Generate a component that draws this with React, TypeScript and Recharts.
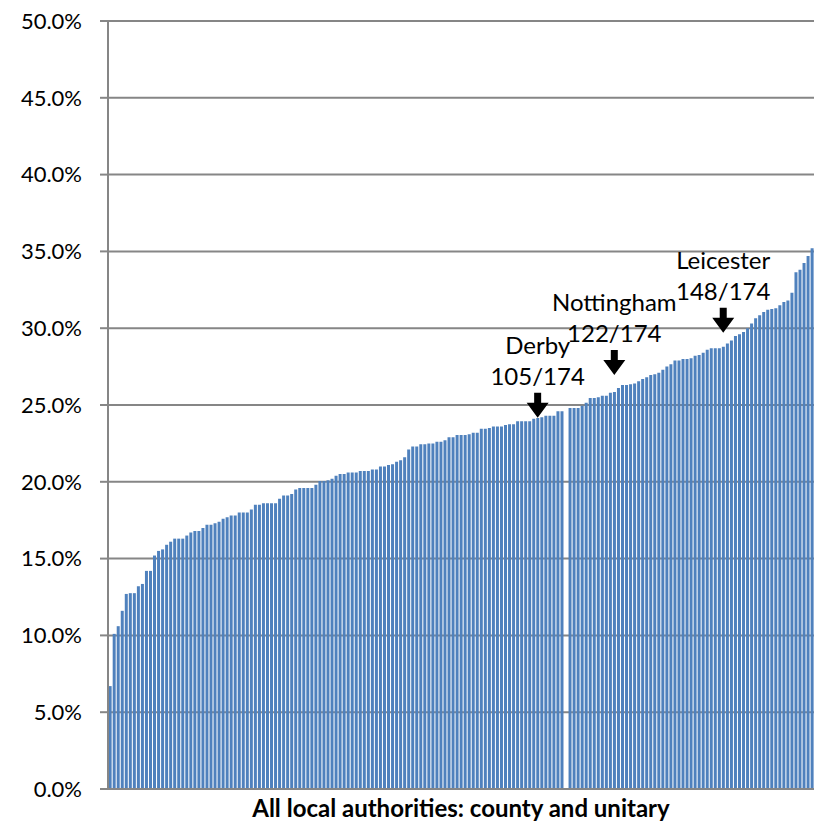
import React from 'react';
import { BarChart, Bar, XAxis, YAxis, CartesianGrid, ReferenceDot, Label } from 'recharts';

// Share (%) for each local authority, sorted ascending; one slot has no value
const shares: (number | null)[] = [
  6.7, 10.1, 10.6, 11.6, 12.7, 12.75, 12.75, 13.2, 13.35,
  14.2, 14.2, 15.2, 15.5, 15.6, 15.9, 16.1, 16.3, 16.3, 16.3, 16.5, 16.7, 16.8, 16.8, 17.0, 17.2, 17.2, 17.3, 17.4, 17.6,
  17.7, 17.8, 17.8, 18.0, 18.0, 18.0, 18.2, 18.5, 18.5, 18.6, 18.6, 18.6, 18.6, 18.9, 19.1, 19.1, 19.2, 19.5, 19.6, 19.6,
  19.6, 19.6, 19.8, 20.05, 20.05, 20.1, 20.2, 20.4, 20.5,
  20.5, 20.6, 20.6, 20.6, 20.7, 20.7, 20.7, 20.8, 20.8, 21.0, 21.0, 21.1, 21.15, 21.3, 21.4, 21.6, 22.1, 22.3, 22.3, 22.45,
  22.45, 22.5, 22.5, 22.6, 22.6, 22.7, 22.9, 22.9, 23.05, 23.05, 23.05, 23.1, 23.2, 23.2, 23.45, 23.45, 23.5, 23.6, 23.6,
  23.6, 23.7, 23.75, 23.75, 23.95, 23.95, 23.95, 23.95, 24.1, 24.15, 24.2, 24.3, 24.3, 24.3, 24.6, 24.6,
  null,
  24.8, 24.8, 24.8, 24.95, 25.15, 25.45, 25.45, 25.5, 25.6, 25.6, 25.8, 25.85, 26.1,
  26.3, 26.3, 26.35, 26.4, 26.55, 26.7, 26.8, 26.95, 27.0, 27.1, 27.3, 27.5, 27.65, 27.9, 27.9, 28.0, 28.0, 28.05, 28.2,
  28.25, 28.4, 28.6, 28.7, 28.7, 28.7, 28.8, 29.0, 29.2, 29.5, 29.6, 29.75, 30.0, 30.3, 30.65, 30.85, 31.05, 31.2, 31.25,
  31.3, 31.5, 31.7, 31.8, 32.3, 33.65, 33.8, 34.25, 34.7, 35.2,
];

const yTicks = [0, 5, 10, 15, 20, 25, 30, 35, 40, 45, 50];
const xTitle = 'All local authorities: county and unitary';

// Annotations
const annotationNames = ['Derby', 'Nottingham', 'Leicester'];
const annotationRanks = ['105/174', '122/174', '148/174'];
const annotationIndex = [106, 125, 152];
const annotationTip = [24.17, 26.95, 29.7];

const data = shares.map((v, i) => ({ i, v }));

const FONT = 'Lato, "Liberation Sans", sans-serif';
const GRID = '#868686';

const makeArrow = (name: string, rank: string) => (props: any) => {
  const { cx, cy } = props;
  if (cx == null || cy == null) return <g />;
  const pts = [
    [cx - 3.5, cy - 25],
    [cx + 3.5, cy - 25],
    [cx + 3.5, cy - 15],
    [cx + 11, cy - 15],
    [cx, cy],
    [cx - 11, cy - 15],
    [cx - 3.5, cy - 15],
  ]
    .map((p) => p.join(','))
    .join(' ');
  return (
    <g>
      <polygon points={pts} fill="#000" />
      <text x={cx} y={cy - 33} textAnchor="middle" fontSize={24} fontFamily={FONT} fill="#000">
        {rank}
      </text>
      <text x={cx} y={cy - 64} textAnchor="middle" fontSize={24} fontFamily={FONT} fill="#000">
        {name}
      </text>
    </g>
  );
};

export default function App() {
  return (
    <div style={{ position: 'absolute', left: 0, top: 0, width: 814, height: 824, background: '#fff' }}>
      <BarChart
        width={814}
        height={824}
        data={data}
        margin={{ top: 21, right: 0, bottom: 0, left: 0 }}
        barCategoryGap="16%"
      >
        <CartesianGrid vertical={false} stroke={GRID} strokeWidth={2} />
        <XAxis
          dataKey="i"
          type="category"
          tick={false}
          tickLine={false}
          height={35}
          axisLine={{ stroke: GRID, strokeWidth: 2 }}
          interval={0}
        >
          <Label
            value={xTitle}
            position="insideBottom"
            offset={7}
            style={{ fontFamily: FONT, fontSize: 24, fontWeight: 'bold', fill: '#000' }}
          />
        </XAxis>
        <YAxis
          domain={[0, 50]}
          ticks={yTicks}
          interval={0}
          width={108}
          tickSize={8}
          tickMargin={18}
          tickFormatter={(v: number) => `${v.toFixed(1)}%`}
          tick={{ fill: '#000', fontSize: 22, fontFamily: FONT }}
          axisLine={{ stroke: GRID, strokeWidth: 2 }}
          tickLine={{ stroke: GRID, strokeWidth: 2 }}
        />
        <Bar dataKey="v" fill="#4F81BD" isAnimationActive={false} />
        {annotationNames.map((name, k) => (
          <ReferenceDot
            key={name}
            x={annotationIndex[k]}
            y={annotationTip[k]}
            r={0}
            ifOverflow="visible"
            shape={makeArrow(name, annotationRanks[k])}
          />
        ))}
      </BarChart>
    </div>
  );
}
